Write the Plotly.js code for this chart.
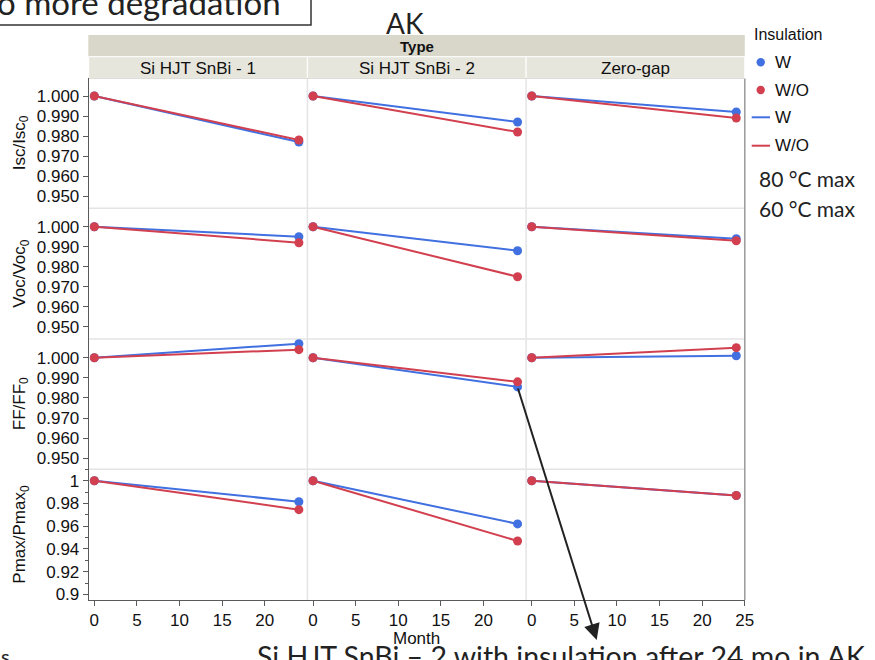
<!DOCTYPE html>
<html>
<head>
<meta charset="utf-8">
<script src="https://cdn.plot.ly/plotly-3.0.1.min.js"></script>
<style>
  html, body { margin: 0; padding: 0; background: #fff; }
  #chart { width: 875px; height: 660px; }
</style>
</head>
<body>
<div id="chart"></div>
<script>
// ---- data ----
const months = [0, 24];
const types = ['Si HJT SnBi - 1', 'Si HJT SnBi - 2', 'Zero-gap'];
const insulation = ['W', 'W/O'];
const metricTitles = ['Isc/Isc<sub>0</sub>', 'Voc/Voc<sub>0</sub>', 'FF/FF<sub>0</sub>', 'Pmax/Pmax<sub>0</sub>'];

// normalized value at month 0 and month 24, one pair per type
const iscW   = [[1.000, 0.977], [1.000, 0.987], [1.000, 0.992]];
const iscWO  = [[1.000, 0.978], [1.000, 0.982], [1.000, 0.989]];
const vocW   = [[1.000, 0.995], [1.000, 0.988], [1.000, 0.994]];
const vocWO  = [[1.000, 0.992], [1.000, 0.975], [1.000, 0.993]];
const ffW    = [[1.000, 1.007], [1.000, 0.9855], [1.000, 1.001]];
const ffWO   = [[1.000, 1.004], [1.000, 0.988], [1.000, 1.005]];
const pmaxW  = [[1.000, 0.9815], [1.000, 0.962], [1.000, 0.987]];
const pmaxWO = [[1.000, 0.9745], [1.000, 0.947], [1.000, 0.987]];

const ratioTicks = [0.95, 0.96, 0.97, 0.98, 0.99, 1.00];
const ratioTickText = ['0.950', '0.960', '0.970', '0.980', '0.990', '1.000'];
const pmaxTicks = [0.90, 0.92, 0.94, 0.96, 0.98, 1.00];
const pmaxTickText = ['0.9', '0.92', '0.94', '0.96', '0.98', '1'];
const monthTicks = [0, 5, 10, 15, 20];
const monthTicksLast = [0, 5, 10, 15, 20, 25];

const seriesW  = [iscW, vocW, ffW, pmaxW];
const seriesWO = [iscWO, vocWO, ffWO, pmaxWO];

// ---- geometry (pixels) ----
const W = 875, H = 660;
const px = x => x / W;
const py = y => 1 - y / H;
const colEdges = [88.7, 307.4, 526.1, 744.8];
const rowEdges = [78.3, 208.3, 339.0, 469.3, 600.0];
const yRanges = [[0.94385, 1.00885], [0.94385, 1.0092], [0.94453, 1.0093], [0.89507, 1.01003]];
const xRange = [-0.66, 25.0];

const BLUE = '#4170e0';
const RED = '#d2404f';
const AXIS = '#5a5a5a';
const SEP = '#e4e4e4';
const FONT = 'Liberation Sans, Arial, Helvetica, sans-serif';
const SLIDE_FONT = 'Lato, Open Sans, sans-serif';

const traces = [];
const layout = {
  width: W, height: H,
  margin: { l: 0, r: 0, t: 0, b: 0, pad: 0 },
  paper_bgcolor: '#ffffff',
  plot_bgcolor: 'rgba(0,0,0,0)',
  showlegend: false,
  font: { family: FONT, size: 16, color: '#111' },
  shapes: [],
  annotations: []
};

for (let r = 0; r < 4; r++) {
  for (let c = 0; c < 3; c++) {
    const idx = r * 3 + c + 1;
    const sfx = idx === 1 ? '' : String(idx);
    const xa = 'x' + sfx, ya = 'y' + sfx;
    [[seriesW, BLUE, insulation[0]], [seriesWO, RED, insulation[1]]].forEach(([s, col, name]) => {
      traces.push({
        type: 'scatter', mode: 'lines+markers',
        x: months, y: s[r][c], xaxis: xa, yaxis: ya,
        name: name,
        line: { color: col, width: 2 },
        marker: { color: col, size: 9 },
        hovertemplate: types[c] + ' / ' + name + '<br>%{x} mo: %{y:.3f}<extra></extra>'
      });
    });

    layout['xaxis' + sfx] = {
      domain: [px(colEdges[c]), px(colEdges[c + 1])],
      range: xRange, anchor: ya,
      showgrid: false, zeroline: false,
      showline: r === 3, linecolor: AXIS, linewidth: 1,
      ticks: r === 3 ? 'outside' : '', ticklen: 5, tickcolor: AXIS,
      tickvals: c === 2 ? monthTicksLast : monthTicks,
      showticklabels: r === 3,
      tickfont: { family: FONT, size: 17, color: '#111' }
    };
    const isP = r === 3;
    layout['yaxis' + sfx] = {
      domain: [py(rowEdges[r + 1]), py(rowEdges[r])],
      range: yRanges[r], anchor: xa,
      showgrid: false, zeroline: false,
      showline: c === 0, linecolor: AXIS, linewidth: 1,
      ticks: c === 0 ? 'outside' : '', ticklen: 5, tickcolor: AXIS,
      tickvals: isP ? pmaxTicks : ratioTicks,
      ticktext: isP ? pmaxTickText : ratioTickText,
      showticklabels: c === 0,
      tickfont: { family: FONT, size: 17, color: '#111' },
      minor: (isP && c === 0) ? { tick0: 0.9, dtick: 0.01, ticks: 'outside', ticklen: 3, tickcolor: AXIS } : undefined
    };
  }
}

// ---- panel frame: separators, right border, strips ----
const sh = layout.shapes;
const line = (x0, y0, x1, y1, color, width, layer) => sh.push({
  type: 'line', xref: 'paper', yref: 'paper',
  x0: px(x0), y0: py(y0), x1: px(x1), y1: py(y1),
  line: { color: color, width: width }, layer: layer || 'below'
});
const rect = (x0, y0, x1, y1, fill, lc, lw) => sh.push({
  type: 'rect', xref: 'paper', yref: 'paper',
  x0: px(x0), y0: py(y0), x1: px(x1), y1: py(y1),
  fillcolor: fill, line: { color: lc, width: lw }, layer: 'below'
});

[208.3, 339.0, 469.3].forEach(y => line(colEdges[0], y, colEdges[3], y, SEP, 1.5));
[307.4, 526.1].forEach(x => line(x, rowEdges[0], x, rowEdges[4], SEP, 1.5));
line(colEdges[3], rowEdges[0], colEdges[3], rowEdges[4], '#9a9a9a', 1.5);

rect(88.3, 35, 744.8, 56.7, '#d9d7c9', 'rgba(0,0,0,0)', 0);
for (let c = 0; c < 3; c++) rect(colEdges[c], 56.7, colEdges[c + 1], 78.3, '#e7e6dd', '#ffffff', 1);
line(88.3, 78.3, 744.8, 78.3, '#d6d6cf', 1);

// ---- text ----
const ann = layout.annotations;
const txt = (text, x, y, opts) => ann.push(Object.assign({
  text: text, xref: 'paper', yref: 'paper', x: px(x), y: py(y),
  xanchor: 'center', yanchor: 'middle', showarrow: false,
  font: { family: FONT, size: 17, color: '#111' }
}, opts || {}));

txt('<b>Type</b>', 416.5, 46.5, { font: { family: FONT, size: 15, color: '#111' } });
types.forEach((t, c) => txt(t, (colEdges[c] + colEdges[c + 1]) / 2, 68));

metricTitles.forEach((t, r) => txt(t, 21, (rowEdges[r] + rowEdges[r + 1]) / 2, { textangle: -90 }));
txt('Month', 416.75, 638);

// legend
txt('Insulation', 752, 34.4, { xanchor: 'left', font: { family: FONT, size: 16, color: '#111' } });
const legY = [62.3, 90.0, 117.3, 145.7];
[[BLUE, insulation[0]], [RED, insulation[1]]].forEach(([col, name], i) => {
  sh.push({
    type: 'circle', xref: 'paper', yref: 'paper',
    xsizemode: 'pixel', ysizemode: 'pixel',
    xanchor: px(760.7), yanchor: py(legY[i]),
    x0: -4.2, x1: 4.2, y0: -4.2, y1: 4.2,
    fillcolor: col, line: { color: col, width: 0 }
  });
  txt(name, 773, legY[i], { xanchor: 'left' });
  line(751.7, legY[i + 2], 770, legY[i + 2], col, 2, 'above');
  txt(name, 773, legY[i + 2], { xanchor: 'left' });
});

// slide notes
txt('80 °C max', 756.7, 178.3, { xanchor: 'left', font: { family: SLIDE_FONT, size: 21, color: '#222' } });
txt('60 °C max', 756.7, 208.3, { xanchor: 'left', font: { family: SLIDE_FONT, size: 21, color: '#222' } });
txt('AK', 405, 23.2, { font: { family: SLIDE_FONT, size: 28, color: '#222' } });
txt('o more degradation', 283, 2.5, { xanchor: 'right', font: { family: SLIDE_FONT, size: 33, color: '#222' } });
rect(-5, -5, 311, 25, 'rgba(0,0,0,0)', '#333333', 1.5);
txt('Si HJT SnBi – 2 with insulation after 24 mo in AK', 255, 655.5, { xanchor: 'left', font: { family: SLIDE_FONT, size: 28.5, color: '#222' } });
txt('s', -1, 656, { xanchor: 'left', font: { family: SLIDE_FONT, size: 20, color: '#222' } });

// pointer from the SnBi-2 FF point down to the caption
ann.push({
  text: '', xref: 'paper', yref: 'paper',
  x: px(596.7), y: py(640),
  ax: 517.5 - 596.7, ay: 387 - 640, axref: 'pixel', ayref: 'pixel',
  showarrow: true, arrowhead: 2, arrowsize: 1.6, arrowwidth: 2,
  arrowcolor: '#222', standoff: 0, startstandoff: 0
});

Plotly.newPlot('chart', traces, layout, { displayModeBar: false, staticPlot: true });
</script>
</body>
</html>
